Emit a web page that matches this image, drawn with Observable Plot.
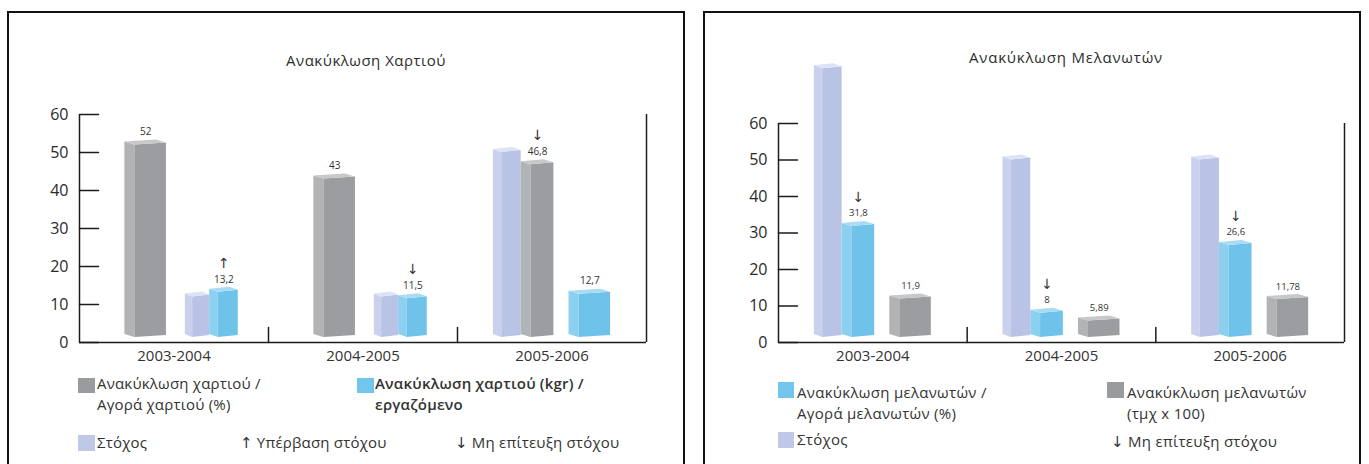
<!DOCTYPE html>
<html>
<head>
<meta charset="utf-8">
<script src="https://cdn.jsdelivr.net/npm/d3@7"></script>
<script src="https://cdn.jsdelivr.net/npm/@observablehq/plot@0.6"></script>
<style>
  html, body { margin: 0; padding: 0; background: #fff; }
  body { width: 1369px; height: 464px; overflow: hidden; position: relative;
         font-family: "Open Sans", "Noto Sans", "DejaVu Sans", sans-serif; color: #333; }
  .panel { position: absolute; top: 11px; height: 470px; border: 2px solid #111; box-sizing: border-box; }
  .panel svg { position: absolute; left: 0; top: 0; overflow: visible; }
  .title { position: absolute; font-size: 15px; line-height: 15px; white-space: nowrap; transform: translate(-50%, -50%); color: #2e2e2e; }
  .leg { position: absolute; font-size: 15px; line-height: 21px; white-space: nowrap; color: #333; }
  .sw { position: absolute; }
</style>
</head>
<body>
<div id="paper" class="panel" style="left:7px;width:678px"></div>
<div id="toner" class="panel" style="left:703px;width:658px"></div>
<script>
// ---- data -------------------------------------------------------------
const periods = ["2003-2004", "2004-2005", "2005-2006"];
const yTicks = [0, 10, 20, 30, 40, 50, 60];

// Ανακύκλωση Χαρτιού
const paperRecycledPct = [52, 43, 46.8];        // ανακύκλωση / αγορά χαρτιού (%)
const paperKgPerEmployee = [13.2, 11.5, 12.7];  // kgr ανά εργαζόμενο
const paperTargets = [12, 12, 50];              // στόχος
const paperTargetFor = ["kg", "kg", "pct"];     // σειρά με την οποία συγκρίνεται ο στόχος

// Ανακύκλωση Μελανωτών
const tonerRecycledPct = [31.8, 8, 26.6];       // ανακύκλωση / αγορά μελανωτών (%)
const tonerUnits = [11.9, 5.89, 11.78];         // τμχ x 100
const tonerTargets = [75, 50, 50];
const tonerTargetFor = ["pct", "pct", "pct"];

const titles = ["Ανακύκλωση Χαρτιού", "Ανακύκλωση Μελανωτών"];
const targetLabel = "Στόχος";
const aboveLabel = "↑ Υπέρβαση στόχου";
const belowLabel = "↓ Μη επίτευξη στόχου";

// ---- styling ----------------------------------------------------------
const FONT = '"Open Sans", "Noto Sans", "DejaVu Sans", sans-serif';
const SHADES = {
  gray:   {front: "#9c9da0", side: "#b2b3b5", top: "#c7c8ca", swatch: "#9a9b9e"},
  blue:   {front: "#6fc3ea", side: "#8cd0f0", top: "#a9dcf3", swatch: "#72c5ec"},
  target: {front: "#b9c3e5", side: "#cad1ec", top: "#dde2f4", swatch: "#c0c8e8"}
};
// two slots per period: the bar compared with its target (with the target
// standing just left of it) and the stand-alone bar
const REGIONS = [[0.19, 0.51], [0.56, 0.84]];
const SINGLE_WIDTH = 0.22;
const TARGET_SHARE = 0.46;

const fmt = v => String(v).replace(".", ",");

function buildRows(series, targets, targetFor) {
  const rows = [];
  periods.forEach((period, i) => {
    series.forEach((s, u) => {
      const [r0, r1] = REGIONS[u];
      if (targetFor[i] === s.key) {
        const mid = r0 + (r1 - r0) * TARGET_SHARE;
        rows.push({period, kind: "target", shade: "target", value: targets[i], x1: i + r0, x2: i + mid});
        rows.push({period, kind: s.key, shade: s.shade, value: s.values[i], target: targets[i], x1: i + mid, x2: i + r1});
      } else {
        const c = (r0 + r1) / 2;
        rows.push({period, kind: s.key, shade: s.shade, value: s.values[i], x1: i + c - SINGLE_WIDTH / 2, x2: i + c + SINGLE_WIDTH / 2});
      }
    });
  });
  // targets are drawn first so the measured bars sit in front of them
  return rows.sort((a, b) => (b.kind === "target") - (a.kind === "target"));
}

// rect mark rendered as a small 3D box: lighter left face, front face and top
function box3d(rows) {
  return Plot.rect(rows, {
    x1: "x1", x2: "x2", y1: 0, y2: "value", fill: d => SHADES[d.shade].front,
    render(index, scales, values) {
      const g = d3.create("svg:g");
      const poly = (pts, fill) => g.append("path").attr("d", "M" + pts.map(p => p.join(",")).join("L") + "Z").attr("fill", fill);
      for (const i of index) {
        const c = SHADES[rows[i].shade];
        const xa = values.x1[i], xb = values.x2[i];
        const yt = values.y2[i], yb = values.y1[i] - 5;
        const s = Math.min(10, (xb - xa) * 0.3);
        const xf = xa + s, lr = 3, rr = 2;
        poly([[xa, yt - lr], [xf, yt], [xf, yb], [xa, yb - lr]], c.side);
        poly([[xf, yt], [xb, yt - rr], [xb, yb - rr], [xf, yb]], c.front);
        poly([[xa, yt - lr], [xf, yt], [xb, yt - rr], [xb - s, yt - lr - rr]], c.top);
      }
      return g.node();
    }
  });
}

const stub = {draw(context, l) { context.moveTo(0, 0); context.lineTo(0, -l); }};

function chart({series, targets, targetFor, width, height, marginLeft, marginRight, marginTop, marginBottom, labelSize}) {
  const rows = buildRows(series, targets, targetFor);
  const bars = rows.filter(d => d.kind !== "target");
  const compared = bars.filter(d => d.target != null);
  const n = periods.length;
  const axisStyle = {stroke: "#1c1c1c", strokeWidth: 1.5};
  return Plot.plot({
    width, height, marginLeft, marginRight, marginTop, marginBottom,
    x: {domain: [0, n], axis: null, label: null},
    y: {domain: [0, 60], axis: null, label: null},
    style: {fontFamily: FONT, background: "transparent", overflow: "visible"},
    marks: [
      box3d(rows),
      Plot.ruleX([0, n], {y1: 0, y2: 60, ...axisStyle}),
      Plot.ruleY([0], {x1: 0, x2: n, ...axisStyle}),
      Plot.vector(yTicks, {x: () => 0, y: d => d, rotate: 90, length: 19, anchor: "start", shape: stub, ...axisStyle}),
      Plot.vector(d3.range(1, n), {x: d => d, y: () => 0, rotate: 0, length: 15, anchor: "start", shape: stub, ...axisStyle}),
      Plot.axisY(yTicks, {tickSize: 0, tickPadding: 11, fontSize: 16, fill: "#2a2a2a", style: {letterSpacing: "1px"}}),
      Plot.text(periods, {x: (d, i) => i + 0.5, y: () => 0, text: d => d, dy: 14, fontSize: 15, fill: "#333", style: {letterSpacing: "0.4px"}}),
      Plot.text(bars, {x: d => (d.x1 + d.x2) / 2, y: "value", text: d => fmt(d.value), dy: -13, fontSize: labelSize, fill: "#333"}),
      Plot.text(compared, {x: d => (d.x1 + d.x2) / 2, y: "value", text: d => d.value >= d.target ? "↑" : "↓", dy: -29, fontSize: 14, fill: "#333"})
    ]
  });
}

function addTitle(panel, text, cx, cy, extra) {
  const t = document.createElement("div");
  t.className = "title";
  t.textContent = text;
  t.style.left = cx + "px"; t.style.top = cy + "px";
  if (extra) Object.assign(t.style, extra);
  panel.appendChild(t);
}
function addLegend(panel, {x, y, w, h, shade, lines, tx, ty, weight, spacing}) {
  if (shade) {
    const s = document.createElement("div");
    s.className = "sw";
    Object.assign(s.style, {left: x + "px", top: y + "px", width: w + "px", height: h + "px", background: SHADES[shade].swatch});
    panel.appendChild(s);
  }
  const t = document.createElement("div");
  t.className = "leg";
  t.innerHTML = lines.join("<br>");
  Object.assign(t.style, {left: tx + "px", top: ty + "px", letterSpacing: (spacing || 0.2) + "px"});
  if (weight) t.style.fontWeight = weight;
  panel.appendChild(t);
}

// ---- Ανακύκλωση Χαρτιού ------------------------------------------------
const paperPanel = document.getElementById("paper");
paperPanel.appendChild(chart({
  series: [
    {key: "pct", shade: "gray", values: paperRecycledPct},
    {key: "kg", shade: "blue", values: paperKgPerEmployee}
  ],
  targets: paperTargets, targetFor: paperTargetFor,
  width: 674, height: 360, marginLeft: 70, marginRight: 37, marginTop: 101, marginBottom: 31,
  labelSize: 10
}));
addTitle(paperPanel, titles[0], 357, 47, {letterSpacing: "0.5px"});
addLegend(paperPanel, {x: 69, y: 365, w: 17, h: 15, shade: "gray", lines: ["Ανακύκλωση χαρτιού /", "Αγορά χαρτιού (%)"], tx: 88, ty: 360});
addLegend(paperPanel, {x: 348, y: 365, w: 17, h: 15, shade: "blue", lines: ["Ανακύκλωση χαρτιού (kgr) /", "εργαζόμενο"], tx: 366, ty: 360, weight: 600, spacing: 0});
addLegend(paperPanel, {x: 69, y: 422, w: 17, h: 16, shade: "target", lines: [targetLabel], tx: 88, ty: 419});
addLegend(paperPanel, {lines: [aboveLabel], tx: 231, ty: 419});
addLegend(paperPanel, {lines: [belowLabel], tx: 446, ty: 419});

// ---- Ανακύκλωση Μελανωτών ----------------------------------------------
const tonerPanel = document.getElementById("toner");
tonerPanel.appendChild(chart({
  series: [
    {key: "pct", shade: "blue", values: tonerRecycledPct},
    {key: "units", shade: "gray", values: tonerUnits}
  ],
  targets: tonerTargets, targetFor: tonerTargetFor,
  width: 654, height: 360, marginLeft: 73, marginRight: 15, marginTop: 110, marginBottom: 31,
  labelSize: 9.5
}));
addTitle(tonerPanel, titles[1], 361, 44, {letterSpacing: "0.8px"});
addLegend(tonerPanel, {x: 73, y: 369, w: 16, h: 16, shade: "blue", lines: ["Ανακύκλωση μελανωτών /", "Αγορά μελανωτών (%)"], tx: 92, ty: 369, spacing: 0.3});
addLegend(tonerPanel, {x: 402, y: 369, w: 17, h: 16, shade: "gray", lines: ["Ανακύκλωση μελανωτών", "(τμχ x 100)"], tx: 422, ty: 369, spacing: 0.3});
addLegend(tonerPanel, {x: 73, y: 419, w: 16, h: 16, shade: "target", lines: [targetLabel], tx: 92, ty: 416, spacing: 0.3});
addLegend(tonerPanel, {lines: [belowLabel], tx: 406, ty: 418, spacing: 0.3});
</script>
</body>
</html>
